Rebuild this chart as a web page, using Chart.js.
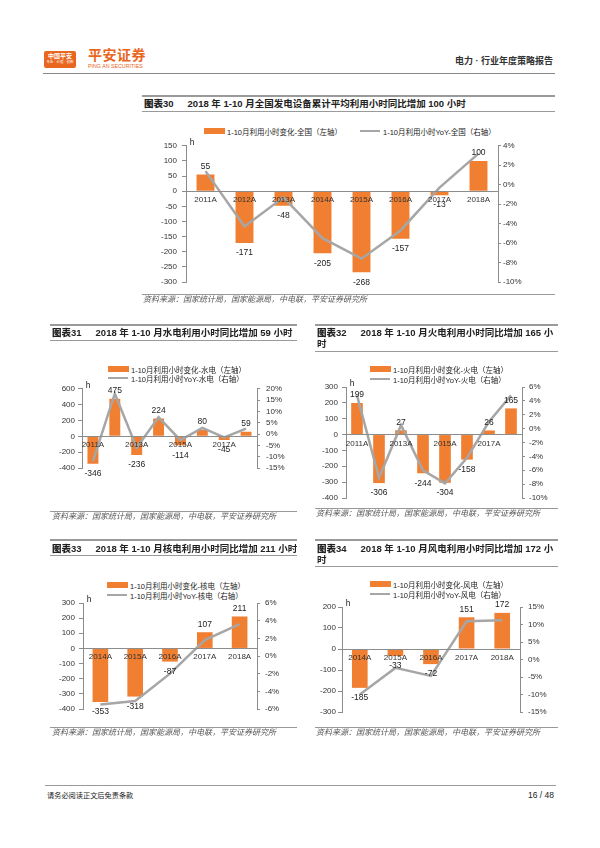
<!DOCTYPE html>
<html>
<head>
<meta charset="utf-8">
<script src="https://cdn.jsdelivr.net/npm/chart.js@4.4.1/dist/chart.umd.min.js"></script>
<style>
  body { margin: 0; width: 600px; height: 848px; position: relative; background: #fff; overflow: hidden;
         font-family: "Liberation Sans", "Noto Sans CJK SC", sans-serif; color: #222; }
  .abs { position: absolute; }
  .hline { position: absolute; height: 0; border-top: 1px solid #999; }
  .title { position: absolute; border-top: 2px solid #9a9a9a; border-bottom: 1.5px solid #9a9a9a;
           font-weight: bold; font-size: 9.5px; line-height: 11px; white-space: nowrap; padding-left: 2px; }
  .title b { margin-right: 14px; }
  .src { position: absolute; font-size: 8px; font-style: italic; color: #555; white-space: nowrap; line-height: 10px; }
  .lg { position: absolute; display: flex; align-items: center; height: 10px; font-size: 7.5px; white-space: nowrap; }
  .sw-bar { display: inline-block; width: 21px; height: 6px; background: #F07F32; margin-right: 2px; }
  .sw-line { display: inline-block; width: 20px; height: 2px; background: #A6A6A6; margin-right: 3px; }
  canvas { position: absolute; }
</style>
</head>
<body>

<!-- page header -->
<div class="abs" style="left:44px;top:51px;width:32px;height:17px;background:#E9661E;border-radius:2px;color:#fff;text-align:center;">
  <div style="font-size:6px;font-weight:bold;line-height:8px;margin-top:1px;">中国平安</div>
  <div style="font-size:3.5px;line-height:5px;">专业 · 价值 · 创新</div>
</div>
<div class="abs" style="left:88px;top:47px;font-size:14px;font-weight:bold;color:#E9661E;line-height:16px;letter-spacing:0.5px;">平安证券</div>
<div class="abs" style="left:88px;top:63px;font-size:5.3px;color:#E9661E;line-height:6px;">PING AN SECURITIES</div>
<div class="abs" style="right:47px;top:55px;font-size:9px;font-weight:bold;color:#333;line-height:12px;">电力 · 行业年度策略报告</div>
<div class="hline" style="left:43px;top:73px;width:512px;border-top:1.5px solid #888;"></div>

<!-- chart 30 -->
<div class="title" style="left:142px;top:95px;width:411px;padding-top:1px;padding-bottom:2px;"><b>图表30</b>2018 年 1-10 月全国发电设备累计平均利用小时同比增加 100 小时</div>
<div class="lg" style="left:204px;top:126px;"><span class="sw-bar"></span>1-10月利用小时变化-全国（左轴）</div>
<div class="lg" style="left:360px;top:126px;"><span class="sw-line"></span>1-10月利用小时YoY-全国（右轴）</div>
<canvas id="c30" width="410" height="170" style="left:130px;top:136px;"></canvas>
<div class="hline" style="left:142px;top:294px;width:413px;"></div>
<div class="src" style="left:143px;top:295px;">资料来源：国家统计局，国家能源局，中电联，平安证券研究所</div>

<!-- chart 31 -->
<div class="title" style="left:50px;top:324px;width:245px;padding-top:1px;padding-bottom:2px;"><b>图表31</b>2018 年 1-10 月水电利用小时同比增加 59 小时</div>
<div class="lg" style="left:108px;top:364px;"><span class="sw-bar"></span>1-10月利用小时变化-水电（左轴）</div>
<div class="lg" style="left:108px;top:373px;"><span class="sw-line"></span>1-10月利用小时YoY-水电（右轴）</div>
<canvas id="c31" width="260" height="110" style="left:30px;top:378px;"></canvas>
<div class="hline" style="left:50px;top:511px;width:247px;"></div>
<div class="src" style="left:52px;top:512px;">资料来源：国家统计局，国家能源局，中电联，平安证券研究所</div>

<!-- chart 32 -->
<div class="title" style="left:315px;top:324px;width:241px;padding-top:1px;padding-bottom:2px;"><b>图表32</b>2018 年 1-10 月火电利用小时同比增加 165 小<br>时</div>
<div class="lg" style="left:370px;top:364px;"><span class="sw-bar"></span>1-10月利用小时变化-火电（左轴）</div>
<div class="lg" style="left:370px;top:374px;"><span class="sw-line"></span>1-10月利用小时YoY-火电（右轴）</div>
<canvas id="c32" width="260" height="135" style="left:300px;top:377px;"></canvas>
<div class="hline" style="left:315px;top:508px;width:243px;"></div>
<div class="src" style="left:316px;top:509px;">资料来源：国家统计局，国家能源局，中电联，平安证券研究所</div>

<!-- chart 33 -->
<div class="title" style="left:50px;top:539px;width:245px;padding-top:2px;padding-bottom:1px;"><b>图表33</b>2018 年 1-10 月核电利用小时同比增加 211 小时</div>
<div class="lg" style="left:107px;top:580px;"><span class="sw-bar"></span>1-10月利用小时变化-核电（左轴）</div>
<div class="lg" style="left:107px;top:590px;"><span class="sw-line"></span>1-10月利用小时YoY-核电（右轴）</div>
<canvas id="c33" width="260" height="135" style="left:30px;top:593px;"></canvas>
<div class="hline" style="left:50px;top:727px;width:247px;"></div>
<div class="src" style="left:52px;top:728px;">资料来源：国家统计局，国家能源局，中电联，平安证券研究所</div>

<!-- chart 34 -->
<div class="title" style="left:315px;top:539px;width:241px;padding-top:2px;padding-bottom:1px;"><b>图表34</b>2018 年 1-10 月风电利用小时同比增加 172 小<br>时</div>
<div class="lg" style="left:370px;top:579px;"><span class="sw-bar"></span>1-10月利用小时变化-风电（左轴）</div>
<div class="lg" style="left:370px;top:589px;"><span class="sw-line"></span>1-10月利用小时YoY-风电（右轴）</div>
<canvas id="c34" width="260" height="130" style="left:300px;top:597px;"></canvas>
<div class="hline" style="left:315px;top:727px;width:243px;"></div>
<div class="src" style="left:316px;top:728px;">资料来源：国家统计局，国家能源局，中电联，平安证券研究所</div>

<!-- footer -->
<div class="hline" style="left:45px;top:785px;width:511px;border-top:1.5px solid #999;"></div>
<div class="abs" style="left:47px;top:791px;font-size:7.2px;line-height:10px;">请务必阅读正文后免责条款</div>
<div class="abs" style="right:46px;top:790px;font-size:8.5px;line-height:11px;">16 / 48</div>

<script>
// categories
const yearsAll = ['2011A', '2012A', '2013A', '2014A', '2015A', '2016A', '2017A', '2018A'];
const yearsRecent = ['2014A', '2015A', '2016A', '2017A', '2018A'];

// 全国 (chart 30)
const allHours = [55, -171, -48, -205, -268, -157, -13, 100];
const allYoy = [1.4, -4.3, -1.3, -5.5, -7.6, -4.7, -0.3, 3.2];

// 水电 (chart 31)
const hydroHours = [-346, 475, -236, 224, -114, 80, -45, 59];
const hydroYoy = [-12.0, 17.9, -6.0, 7.4, -2.7, 2.7, -1.5, 2.4];

// 火电 (chart 32)
const thermalHours = [199, -306, 27, -244, -304, -158, 26, 165];
const thermalYoy = [4.8, -7.1, 0.5, -6.0, -7.9, -4.2, 1.0, 4.8];

// 核电 (chart 33)
const nuclearHours = [-353, -318, -87, 107, 211];
const nuclearYoy = [-5.5, -5.1, -2.0, 1.8, 3.6];

// 风电 (chart 34)
const windHours = [-185, -33, -72, 151, 172];
const windYoy = [-10.0, -2.4, -4.7, 10.9, 11.2];

const ORANGE = '#F07F32';
const GRAY = '#A6A6A6';
const AXIS = '#8c8c8c';

Chart.defaults.font.family = '"Liberation Sans", "Noto Sans CJK SC", sans-serif';
Chart.defaults.font.size = 8;
Chart.defaults.color = '#333';

// value labels on the bars plus the "h" unit at the top of the left axis
const valueLabels = {
    id: 'valueLabels',
    afterDatasetsDraw(chart) {
        const ctx = chart.ctx;
        const meta = chart.getDatasetMeta(1);
        const values = chart.data.datasets[1].data;
        ctx.save();
        ctx.font = '8.5px "Liberation Sans", sans-serif';
        ctx.fillStyle = '#222';
        ctx.textAlign = 'center';
        ctx.textBaseline = 'middle';
        meta.data.forEach((bar, i) => {
            const v = values[i];
            ctx.fillText(String(v), bar.x, v >= 0 ? bar.y - 8 : bar.y + 10);
        });
        ctx.fillText('h', chart.chartArea.left + 6, chart.chartArea.top - 3);
        ctx.restore();
    }
};

function buildChart(id, o) {
    return new Chart(document.getElementById(id), {
        type: 'bar',
        data: {
            labels: o.labels,
            datasets: [
                {
                    type: 'line',
                    data: o.yoy,
                    yAxisID: 'y1',
                    borderColor: GRAY,
                    borderWidth: 2.5,
                    pointRadius: 0,
                    tension: 0,
                    order: 0
                },
                {
                    type: 'bar',
                    data: o.hours,
                    yAxisID: 'y',
                    backgroundColor: ORANGE,
                    barPercentage: o.barPct,
                    categoryPercentage: 1,
                    order: 1
                }
            ]
        },
        options: {
            responsive: false,
            animation: false,
            layout: { padding: { top: o.padTop, bottom: o.padBottom, left: 0, right: 0 } },
            plugins: { legend: { display: false }, tooltip: { enabled: false } },
            scales: {
                x: {
                    position: { y: 0 },
                    grid: { display: false, drawTicks: false },
                    border: { color: AXIS, width: 1, z: 1 },
                    ticks: {
                        z: 1, // category labels sit on top of the bars
                        padding: 4,
                        autoSkip: false,
                        maxRotation: 0,
                        callback: function(v, i) {
                            return o.skipOdd && i % 2 ? '' : this.getLabelForValue(v);
                        }
                    }
                },
                y: {
                    position: 'left',
                    min: o.yMin, max: o.yMax,
                    grid: { drawOnChartArea: false, drawTicks: true, tickLength: 4, color: AXIS },
                    border: { color: AXIS, width: 1 },
                    ticks: { stepSize: o.yStep, padding: o.lpad, autoSkip: false },
                    afterFit: s => { s.width = o.lw; }
                },
                y1: {
                    position: 'right',
                    min: o.rMin, max: o.rMax,
                    grid: { drawOnChartArea: false, drawTicks: true, tickLength: 3, color: AXIS },
                    border: { color: AXIS, width: 1 },
                    ticks: { stepSize: o.rStep, padding: o.rpad, autoSkip: false, callback: v => v + '%' },
                    afterFit: s => { s.width = o.rw; }
                }
            }
        },
        plugins: [valueLabels]
    });
}

buildChart('c30', { labels: yearsAll, hours: allHours, yoy: allYoy, barPct: 0.46,
    yMin: -300, yMax: 150, yStep: 50, rMin: -10, rMax: 4, rStep: 2,
    lw: 56, rw: 42, padTop: 8, padBottom: 24, lpad: 5, rpad: 2, skipOdd: false });

buildChart('c31', { labels: yearsAll, hours: hydroHours, yoy: hydroYoy, barPct: 0.5,
    yMin: -400, yMax: 600, yStep: 200, rMin: -15, rMax: 20, rStep: 5,
    lw: 52, rw: 33, padTop: 10, padBottom: 20, lpad: 3, rpad: 6, skipOdd: true });

buildChart('c32', { labels: yearsAll, hours: thermalHours, yoy: thermalYoy, barPct: 0.53,
    yMin: -400, yMax: 300, yStep: 100, rMin: -10, rMax: 6, rStep: 2,
    lw: 46, rw: 38, padTop: 10, padBottom: 14, lpad: 4, rpad: 4, skipOdd: true });

buildChart('c33', { labels: yearsRecent, hours: nuclearHours, yoy: nuclearYoy, barPct: 0.45,
    yMin: -400, yMax: 300, yStep: 100, rMin: -6, rMax: 6, rStep: 2,
    lw: 53, rw: 33, padTop: 10, padBottom: 19, lpad: 4, rpad: 5, skipOdd: false });

buildChart('c34', { labels: yearsRecent, hours: windHours, yoy: windYoy, barPct: 0.44,
    yMin: -300, yMax: 200, yStep: 100, rMin: -15, rMax: 15, rStep: 5,
    lw: 42, rw: 40, padTop: 10, padBottom: 15, lpad: 2, rpad: 5, skipOdd: false });
</script>
</body>
</html>
